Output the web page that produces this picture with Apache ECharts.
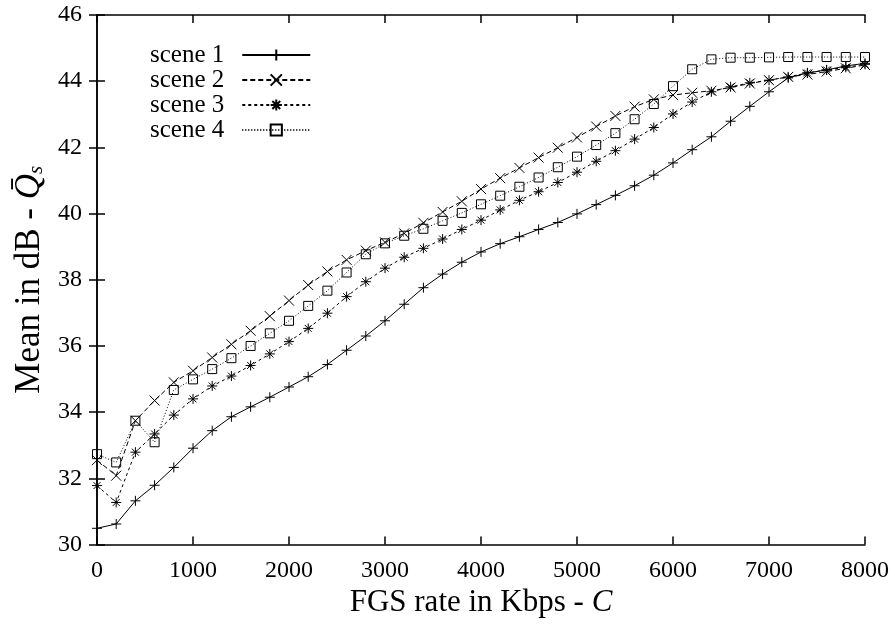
<!DOCTYPE html>
<html>
<head>
<meta charset="utf-8">
<script src="https://cdn.jsdelivr.net/npm/echarts@6/dist/echarts.min.js"></script>
<style>
html,body{margin:0;padding:0;background:#fff;}
#chart{width:895px;height:628px;}
</style>
</head>
<body>
<div id="chart"></div>
<script>
var rates = [0,200,400,600,800,1000,1200,1400,1600,1800,2000,2200,2400,2600,2800,3000,3200,3400,3600,3800,4000,4200,4400,4600,4800,5000,5200,5400,5600,5800,6000,6200,6400,6600,6800,7000,7200,7400,7600,7800,8000];
var scene1 = [30.49,30.62,31.32,31.79,32.33,32.91,33.44,33.86,34.16,34.45,34.76,35.07,35.44,35.87,36.30,36.76,37.26,37.76,38.17,38.53,38.84,39.09,39.30,39.52,39.73,39.99,40.27,40.55,40.84,41.16,41.53,41.93,42.32,42.79,43.24,43.68,44.10,44.25,44.34,44.46,44.54];
var scene2 = [32.55,32.08,33.74,34.35,34.90,35.25,35.65,36.05,36.46,36.90,37.37,37.84,38.25,38.60,38.88,39.13,39.40,39.72,40.05,40.37,40.74,41.07,41.38,41.69,41.99,42.30,42.63,42.95,43.23,43.45,43.58,43.65,43.71,43.81,43.93,44.03,44.13,44.20,44.29,44.39,44.49];
var scene3 = [31.78,31.27,32.79,33.34,33.91,34.40,34.79,35.09,35.41,35.76,36.13,36.53,36.99,37.49,37.94,38.35,38.68,38.95,39.23,39.52,39.80,40.11,40.40,40.66,40.94,41.25,41.58,41.90,42.25,42.60,43.01,43.37,43.68,43.83,43.95,44.03,44.13,44.25,44.34,44.42,44.51];
var scene4 = [32.73,32.48,33.74,33.09,34.67,34.99,35.30,35.63,36.00,36.38,36.76,37.21,37.67,38.22,38.77,39.10,39.33,39.54,39.78,40.02,40.28,40.54,40.81,41.09,41.40,41.72,42.07,42.43,42.85,43.31,43.85,44.36,44.66,44.71,44.71,44.72,44.73,44.73,44.73,44.73,44.73];
var seriesNames = ['scene 1','scene 2','scene 3','scene 4'];
var xTicks = [0,1000,2000,3000,4000,5000,6000,7000,8000];
var yTicks = [30,32,34,36,38,40,42,44,46];

var FONT = '"Liberation Serif","Times New Roman",serif';
function pairs(v){ return rates.map(function(r,i){ return [r, v[i]]; }); }

var symbols = [
  'path://M5,0L5,10M0,5L10,5',
  'path://M0,0L10,10M10,0L0,10',
  'path://M5,0L5,10M0,5L10,5M1.5,1.5L8.5,8.5M8.5,1.5L1.5,8.5',
  'path://M0,0L10,0L10,10L0,10Z'
];
var sizes = [10, 10, 10, 9];
var dashes = ['solid', [5,3], [3,3], [1,2]];
var allData = [scene1, scene2, scene3, scene4];

var series = allData.map(function(d, k){
  return {
    name: seriesNames[k],
    type: 'line',
    data: pairs(d),
    symbol: symbols[k],
    symbolSize: sizes[k],
    showAllSymbol: true,
    lineStyle: {color: '#000', width: 1, type: dashes[k]},
    itemStyle: {color: 'rgba(0,0,0,0)', borderColor: '#000', borderWidth: 1},
    emphasis: {disabled: true},
    animation: false
  };
});

var chart = echarts.init(document.getElementById('chart'), null, {renderer: 'canvas'});
var tickLen = 8;
chart.setOption({
  backgroundColor: '#fff',
  animation: false,
  grid: {left: 97, right: 30, top: 15, bottom: 83.5, containLabel: false},
  legend: {
    orient: 'vertical',
    left: 145, top: 37.5,
    align: 'right',
    itemWidth: 68, itemHeight: 14, itemGap: 0,
    data: seriesNames,
    textStyle: {fontFamily: FONT, fontSize: 25, color: '#000', lineHeight: 25, padding: [0, 13, 0, 0]},
    selectedMode: false
  },
  xAxis: [{
    type: 'value', min: 0, max: 8000, interval: 1000,
    name: 'FGS rate in Kbps - {i|C}',
    nameLocation: 'middle', nameGap: 40,
    nameTextStyle: {fontFamily: FONT, fontSize: 31, color: '#000',
      rich: {i: {fontFamily: FONT, fontSize: 31, fontStyle: 'italic', color: '#000'}}},
    axisLine: {lineStyle: {color: '#000', width: 1.5}},
    axisTick: {inside: true, length: tickLen, lineStyle: {color: '#000', width: 1.5}},
    axisLabel: {fontFamily: FONT, fontSize: 24, color: '#000', margin: 14,
      formatter: function(v){ return xTicks.indexOf(v) >= 0 ? String(v) : ''; }},
    splitLine: {show: false}
  }, {
    type: 'value', min: 0, max: 8000, interval: 1000, position: 'top',
    axisLine: {lineStyle: {color: '#000', width: 1.5}},
    axisTick: {inside: true, length: tickLen, lineStyle: {color: '#000', width: 1.5}},
    axisLabel: {show: false}, splitLine: {show: false}
  }],
  yAxis: [{
    type: 'value', min: 30, max: 46, interval: 2,
    name: 'Mean in dB - {q|Q\u0304}{s|s}',
    nameLocation: 'middle', nameGap: 50, nameRotate: 90,
    nameTextStyle: {fontFamily: FONT, fontSize: 35, color: '#000',
      rich: {
        q: {fontFamily: FONT, fontSize: 35, fontStyle: 'italic', color: '#000'},
        s: {fontFamily: FONT, fontSize: 21, fontStyle: 'italic', color: '#000', verticalAlign: 'bottom', padding: [12,0,0,0]}
      }},
    axisLine: {lineStyle: {color: '#000', width: 1.5}},
    axisTick: {inside: true, length: tickLen, lineStyle: {color: '#000', width: 1.5}},
    axisLabel: {fontFamily: FONT, fontSize: 24, color: '#000', margin: 15,
      formatter: function(v){ return yTicks.indexOf(v) >= 0 ? String(v) : ''; }},
    splitLine: {show: false}
  }, {
    type: 'value', min: 30, max: 46, interval: 2, position: 'right',
    axisLine: {lineStyle: {color: '#000', width: 1.5}},
    axisTick: {inside: true, length: tickLen, lineStyle: {color: '#000', width: 1.5}},
    axisLabel: {show: false}, splitLine: {show: false}
  }],
  series: series
});
</script>
</body>
</html>
